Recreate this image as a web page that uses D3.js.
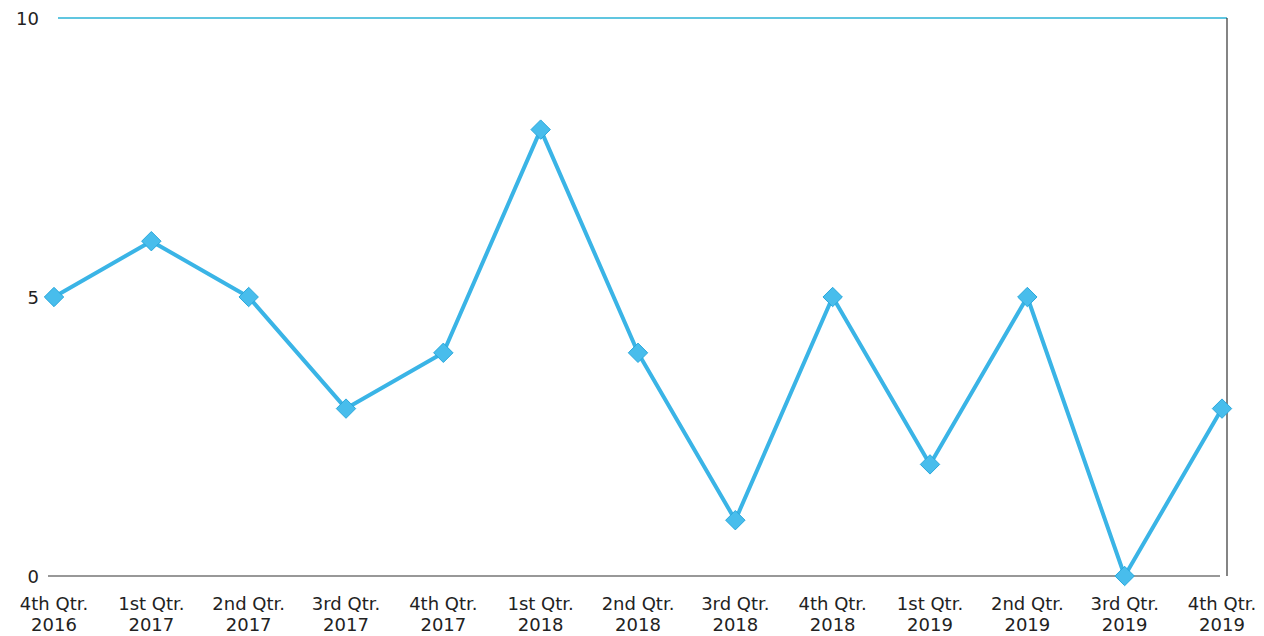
<!DOCTYPE html>
<html>
<head>
<meta charset="utf-8">
<script src="https://cdn.jsdelivr.net/npm/d3@7"></script>
<style>
    body { margin: 0; background: #fff; }
    text { font-family: "DejaVu Sans", Verdana, sans-serif; fill: #222; }
</style>
</head>
<body>
<div id="chart"></div>
<script>
// Quarter labels (two lines each) and values
var quarters = ['4th Qtr.', '1st Qtr.', '2nd Qtr.', '3rd Qtr.', '4th Qtr.', '1st Qtr.', '2nd Qtr.',
                '3rd Qtr.', '4th Qtr.', '1st Qtr.', '2nd Qtr.', '3rd Qtr.', '4th Qtr.'];
var years    = ['2016', '2017', '2017', '2017', '2017', '2018', '2018',
                '2018', '2018', '2019', '2019', '2019', '2019'];
var values   = [5, 6, 5, 3, 4, 8, 4, 1, 5, 2, 5, 0, 3];
var yTicks   = [0, 5, 10];

var width = 1264, height = 636;
var lineColor = '#3ab4e6';

var svg = d3.select('#chart').append('svg')
    .attr('width', width)
    .attr('height', height);

var x = d3.scalePoint()
    .domain(d3.range(values.length))
    .range([54, 1222]);

var y = d3.scaleLinear()
    .domain([0, 10])
    .range([576, 18]);

// frame: top line (cyan), right line and bottom axis (dark)
svg.append('line')
    .attr('x1', 58).attr('x2', 1227)
    .attr('y1', y(10)).attr('y2', y(10))
    .style('stroke', '#2bb3d6').style('stroke-width', 1.5);
svg.append('line')
    .attr('x1', 1227).attr('x2', 1227)
    .attr('y1', y(10)).attr('y2', y(0))
    .style('stroke', '#333').style('stroke-width', 1.2);
svg.append('line')
    .attr('x1', 48).attr('x2', 1220)
    .attr('y1', y(0)).attr('y2', y(0))
    .style('stroke', '#333').style('stroke-width', 1.2);

// y tick labels
svg.selectAll('text.ytick')
    .data(yTicks)
    .enter()
    .append('text')
        .attr('class', 'ytick')
        .attr('x', 39)
        .attr('y', function(d) { return y(d) + 7; })
        .attr('text-anchor', 'end')
        .style('font-size', '18px')
        .text(function(d) { return d; });

// x tick labels
var xLabels = svg.selectAll('g.xlab')
    .data(values)
    .enter()
    .append('g')
        .attr('class', 'xlab')
        .attr('transform', function(d, i) { return 'translate(' + x(i) + ',0)'; });
xLabels.append('text')
    .attr('y', 610)
    .attr('text-anchor', 'middle')
    .style('font-size', '18px')
    .text(function(d, i) { return quarters[i]; });
xLabels.append('text')
    .attr('y', 631)
    .attr('text-anchor', 'middle')
    .style('font-size', '18px')
    .text(function(d, i) { return years[i]; });

// the series line
var line = d3.line()
    .x(function(d, i) { return x(i); })
    .y(function(d) { return y(d); });

svg.append('path')
    .datum(values)
    .attr('d', line)
    .style('fill', 'none')
    .style('stroke', lineColor)
    .style('stroke-width', 4)
    .style('stroke-linejoin', 'round');

// diamond markers
svg.selectAll('path.marker')
    .data(values)
    .enter()
    .append('path')
        .attr('class', 'marker')
        .attr('d', d3.symbol().type(d3.symbolDiamond2).size(240))
        .attr('transform', function(d, i) { return 'translate(' + x(i) + ',' + y(d) + ')'; })
        .style('fill', '#48bdec')
        .style('stroke', '#2aa8dc')
        .style('stroke-width', 1);
</script>
</body>
</html>
